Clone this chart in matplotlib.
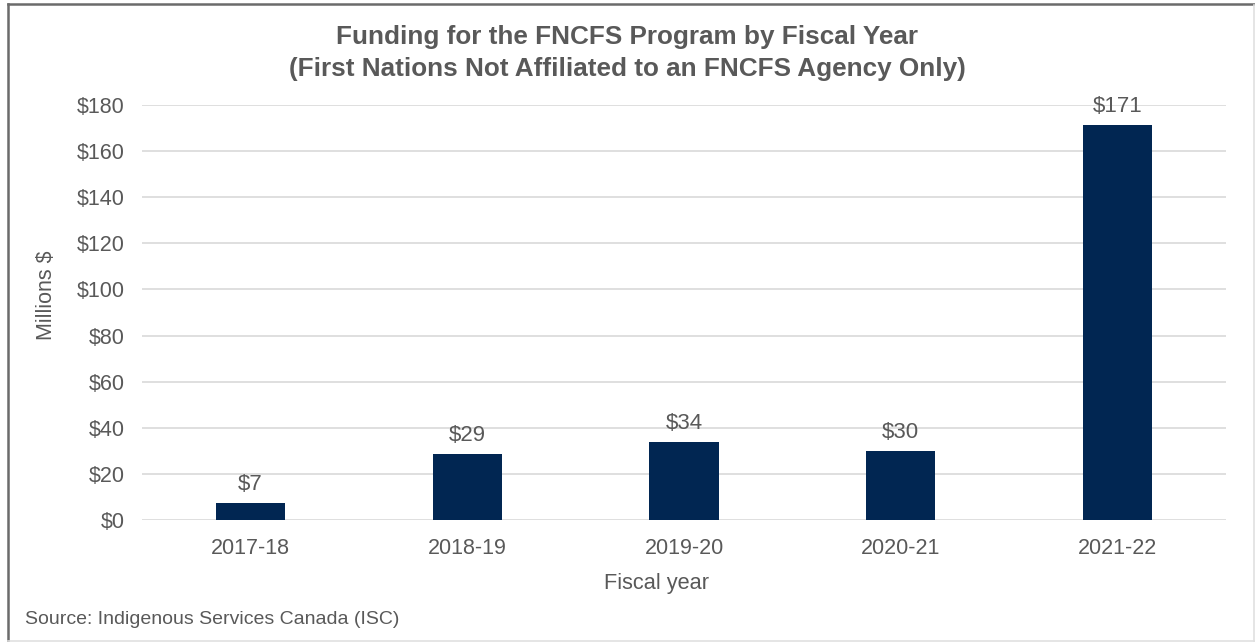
import matplotlib
matplotlib.use("Agg")
import matplotlib.pyplot as plt
from matplotlib.lines import Line2D

plt.rcParams['font.family'] = ['Liberation Sans', 'DejaVu Sans']

# Funding by fiscal year, millions of dollars
years = ["2017-18", "2018-19", "2019-20", "2020-21", "2021-22"]
funding = [7.2, 28.6, 33.9, 30.0, 171.3]
y_ticks = [0, 20, 40, 60, 80, 100, 120, 140, 160, 180]

TEXT = "#595959"
BAR = "#012652"
GRID = "#d9d9d9"

W, H = 1255, 642
fig = plt.figure(figsize=(W / 100, H / 100), dpi=100)
fig.patch.set_facecolor("white")

ax = fig.add_axes([142 / W, 1 - 520 / H, (1226 - 142) / W, (520 - 105) / H])
x = range(len(years))
bars = ax.bar(x, funding, width=0.32, color=BAR, zorder=3)

ax.set_ylim(0, 180)
ax.set_xlim(-0.5, len(years) - 0.5)
ax.set_yticks(y_ticks)
ax.set_yticklabels([f"${t}" for t in y_ticks])
ax.set_xticks(list(x))
ax.set_xticklabels(years)
ax.tick_params(axis="both", length=0, labelsize=15.5, colors=TEXT)
ax.tick_params(axis="y", pad=12.5)
ax.tick_params(axis="x", pad=13)
ax.yaxis.grid(True, color=GRID, linewidth=1.2, zorder=0)
for s in ax.spines.values():
    s.set_visible(False)

for rect, v in zip(bars, funding):
    ax.annotate(f"${v:.0f}", (rect.get_x() + rect.get_width() / 2, v),
                xytext=(0, 6), textcoords="offset points",
                ha="center", va="bottom", fontsize=16, color=TEXT)

fig.text(0.5, 1 - 37 / H, "Funding for the FNCFS Program by Fiscal Year",
         ha="center", va="center", fontsize=18.8, fontweight="bold", color=TEXT)
fig.text(0.5, 1 - 69 / H, "(First Nations Not Affiliated to an FNCFS Agency Only)",
         ha="center", va="center", fontsize=18.8, fontweight="bold", color=TEXT)

fig.text(47 / W, 1 - 295 / H, "Millions $", rotation=90, ha="center",
         va="center", fontsize=15.5, color=TEXT)
fig.text(656 / W, 1 - 583 / H, "Fiscal year", ha="center",
         va="center", fontsize=15.7, color=TEXT)
fig.text(25 / W, 1 - 619 / H, "Source: Indigenous Services Canada (ISC)",
         ha="left", va="center", fontsize=14, color=TEXT)

# Chart frame: darker on top/left, light on right/bottom
fig.add_artist(Line2D([7.5 / W, 7.5 / W], [1 - 4 / H, 0], color="#6b6b6b",
                      linewidth=1.8, transform=fig.transFigure))
fig.add_artist(Line2D([7.5 / W, 1], [1 - 4 / H, 1 - 4 / H], color="#6b6b6b",
                      linewidth=1.8, transform=fig.transFigure))
fig.add_artist(Line2D([1254 / W, 1254 / W], [1 - 5 / H, 0], color="#e0e0e0",
                      linewidth=1.2, transform=fig.transFigure))
fig.add_artist(Line2D([8 / W, 1], [1 - 641 / H, 1 - 641 / H], color="#e0e0e0",
                      linewidth=1.2, transform=fig.transFigure))

fig.savefig("out.png", dpi=100, facecolor="white")
